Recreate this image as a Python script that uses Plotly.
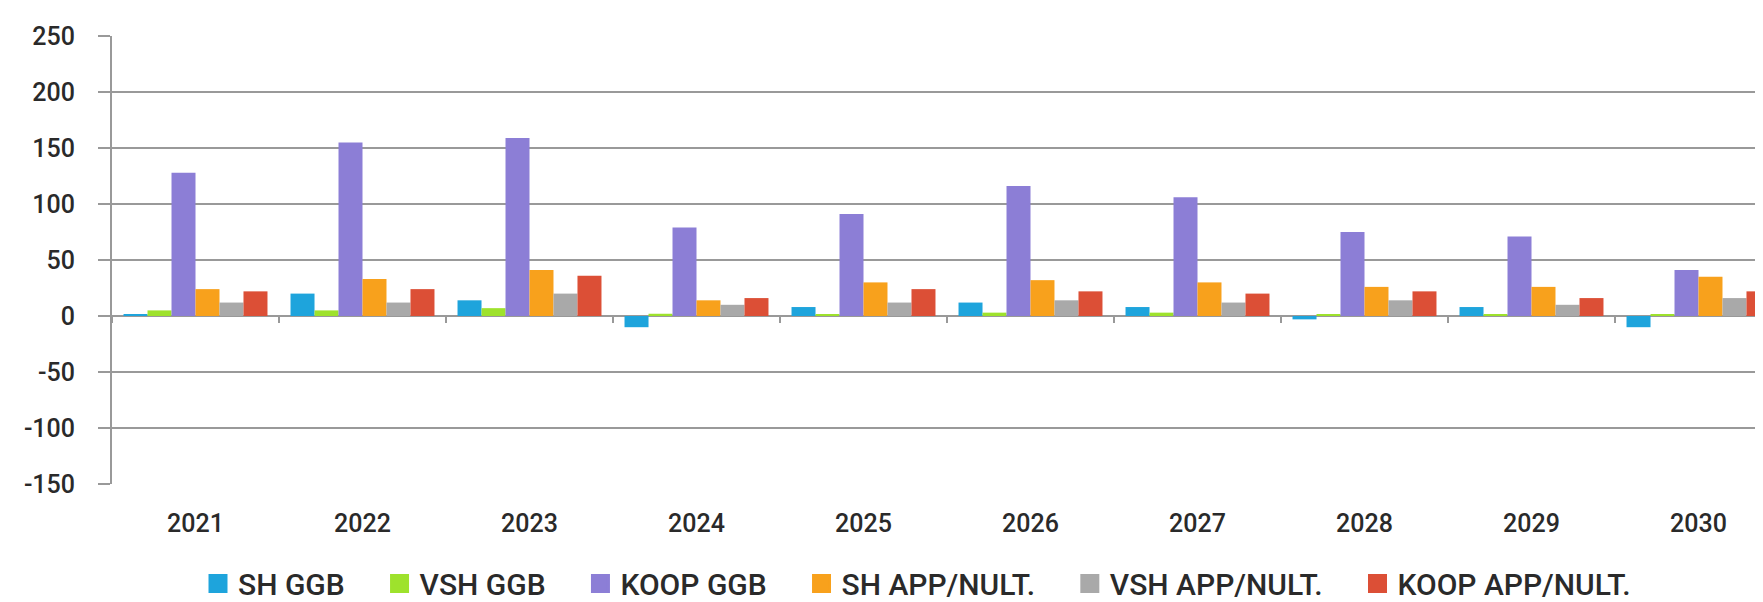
import plotly.graph_objects as go

years = ["2021", "2022", "2023", "2024", "2025", "2026", "2027", "2028", "2029", "2030"]
sh_ggb = [1, 20, 14, -10, 8, 12, 8, -3, 8, -10]
vsh_ggb = [5, 5, 7, 2, 1, 3, 3, 1, 1, 1]
koop_ggb = [128, 155, 159, 79, 91, 116, 106, 75, 71, 41]
sh_app = [24, 33, 41, 14, 30, 32, 30, 26, 26, 35]
vsh_app = [12, 12, 20, 10, 12, 14, 12, 14, 10, 16]
koop_app = [22, 24, 36, 16, 24, 22, 20, 22, 16, 22]

series_names = ["SH GGB", "VSH GGB", "KOOP GGB", "SH APP/NULT.", "VSH APP/NULT.", "KOOP APP/NULT."]
series_values = [sh_ggb, vsh_ggb, koop_ggb, sh_app, vsh_app, koop_app]
colors = ["#1ea4dc", "#9ee22c", "#8c7ed6", "#f8a11c", "#a9a9a9", "#dc4f36"]

y_ticks = [-150, -100, -50, 0, 50, 100, 150, 200, 250]

W, H = 1763, 602
left, top, bottom = 104, 28, 115
plot_w = W - left
cat_w = 167.0
x_hi = -0.5 + plot_w / cat_w

NB = "\u00a0"

fig = go.Figure()
n_series = len(series_names)
for i, (name, vals, col) in enumerate(zip(series_names, series_values, colors)):
    fig.add_trace(go.Bar(
        x=years, y=vals, name=name, marker=dict(color=col, line=dict(width=0)),
        showlegend=False, legendgroup=name,
    ))
    pad = NB * 4 if i < n_series - 1 else ""
    fig.add_trace(go.Scatter(
        x=[None], y=[None], mode="markers", name=name + pad, legendgroup=name,
        marker=dict(symbol="square", size=16, color=col, line=dict(color=col, width=3)),
    ))

# overlay axis to draw category boundary ticks on the zero line
fig.add_trace(go.Scatter(x=years, y=[None] * len(years), xaxis="x2", mode="markers",
                         showlegend=False, hoverinfo="skip"))

font_family = "Roboto, 'Noto Sans', sans-serif"
text_col = "#2a2a2a"
grid_col = "#999999"

fig.update_layout(
    width=W, height=H,
    margin=dict(l=left, r=0, t=top, b=bottom, pad=0),
    paper_bgcolor="white", plot_bgcolor="white",
    barmode="group", bargap=0.138, bargroupgap=0,
    font=dict(family=font_family, size=25, color=text_col, weight=500),
    xaxis=dict(
        type="category", range=[-0.5, x_hi], showline=False, ticks="",
        showgrid=False, zeroline=False,
        tickfont=dict(size=25, color=text_col, weight=500),
        ticklabelstandoff=22,
    ),
    xaxis2=dict(
        type="category", overlaying="x", matches="x", anchor="free",
        position=150 / 400, side="bottom", showline=False, showgrid=False,
        zeroline=False, showticklabels=False, ticks="outside", tickson="boundaries",
        ticklen=6, tickwidth=2, tickcolor=grid_col,
    ),
    yaxis=dict(
        range=[-150, 250], tickvals=y_ticks, ticktext=[str(v) for v in y_ticks],
        showgrid=True, gridcolor=grid_col, gridwidth=2,
        zeroline=True, zerolinecolor=grid_col, zerolinewidth=2,
        showline=True, linecolor=grid_col, linewidth=2,
        ticks="outside", ticklen=12, tickwidth=2, tickcolor=grid_col,
        tickfont=dict(size=25, color=text_col, weight=500), ticklabelstandoff=18,
    ),
    legend=dict(
        orientation="h", x=(909 - left) / plot_w, xanchor="center",
        y=-(589 - (H - bottom)) / (H - top - bottom), yanchor="middle",
        font=dict(size=30, color=text_col, weight=500), itemwidth=30, tracegroupgap=0,
        bgcolor="rgba(0,0,0,0)",
    ),
)

fig.write_html("out.html")
